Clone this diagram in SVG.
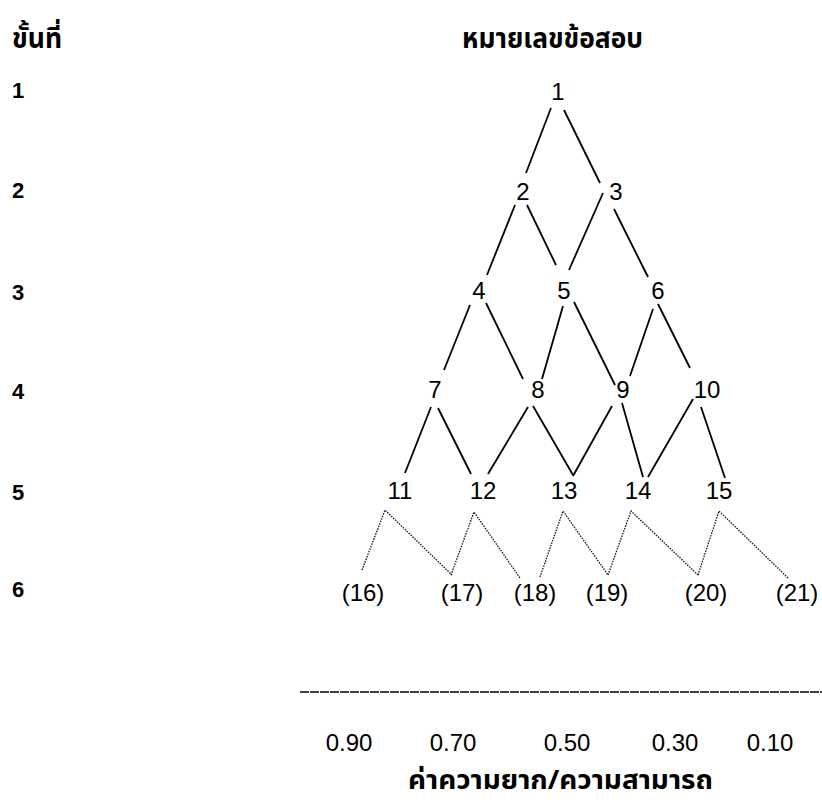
<svg xmlns="http://www.w3.org/2000/svg" width="822" height="802" viewBox="0 0 822 802">
<style>
.n{font-family:"Liberation Sans",Arial,sans-serif;font-size:24px;fill:#000;text-anchor:middle}
.l{font-family:"Liberation Sans",Arial,sans-serif;font-size:22px;font-weight:bold;fill:#000}
.th{font-family:"Noto Sans Thai","Noto Sans","DejaVu Sans",sans-serif;font-weight:bold;fill:#000}
.s{stroke:#000;stroke-width:1.8;fill:none}
.d{stroke:#111;stroke-width:1.3;stroke-dasharray:1.5 1.2;fill:none}
</style>
<rect width="822" height="802" fill="#fff"/>
<g id="header">
<text class="th" x="12" y="48" font-size="28" textLength="50" lengthAdjust="spacingAndGlyphs">ขั้นที่</text>
<text class="th" x="462" y="48" font-size="28" textLength="181" lengthAdjust="spacingAndGlyphs">หมายเลขข้อสอบ</text>
</g>
<g id="steps">
<text class="l" x="12" y="98">1</text>
<text class="l" x="12" y="198">2</text>
<text class="l" x="12" y="300">3</text>
<text class="l" x="12" y="399">4</text>
<text class="l" x="12" y="500">5</text>
<text class="l" x="12" y="597">6</text>
</g>
<g id="connectors">
<line class="s" x1="551" y1="108" x2="526" y2="173"/>
<line class="s" x1="564" y1="110" x2="600" y2="183"/>
<line class="s" x1="515" y1="205" x2="487" y2="275"/>
<line class="s" x1="527" y1="205" x2="556" y2="265"/>
<line class="s" x1="603" y1="193" x2="569" y2="270"/>
<line class="s" x1="614" y1="209" x2="648" y2="277"/>
<line class="s" x1="470" y1="305" x2="444" y2="370"/>
<line class="s" x1="486" y1="303" x2="523" y2="379"/>
<line class="s" x1="563" y1="306" x2="542" y2="379"/>
<line class="s" x1="574" y1="302" x2="615" y2="385"/>
<line class="s" x1="653" y1="309" x2="630" y2="376"/>
<line class="s" x1="658" y1="304" x2="690" y2="368"/>
<line class="s" x1="431" y1="407" x2="405" y2="473"/>
<line class="s" x1="438" y1="408" x2="471" y2="474"/>
<line class="s" x1="528" y1="407" x2="488" y2="474"/>
<line class="s" x1="533" y1="406" x2="573" y2="475"/>
<line class="s" x1="612" y1="406" x2="573" y2="476"/>
<line class="s" x1="622" y1="403" x2="643" y2="477"/>
<line class="s" x1="693" y1="399" x2="648" y2="477"/>
<line class="s" x1="701" y1="407" x2="725" y2="478"/>
<polyline class="d" points="362,570 385,510 452,575"/>
<polyline class="d" points="451,575 474,512 520,578"/>
<polyline class="d" points="540,577 563,511 608,575"/>
<polyline class="d" points="608,575 631,511 698,575"/>
<polyline class="d" points="698,575 719,511 788,578"/>
<line x1="300" y1="692" x2="822" y2="692" stroke="#000" stroke-width="1.6" stroke-dasharray="9 1"/>
</g>
<g id="n1"><text class="n" x="558" y="100">1</text></g>
<g id="n2"><text class="n" x="523" y="200">2</text></g>
<g id="n3"><text class="n" x="616" y="200">3</text></g>
<g id="n4"><text class="n" x="479" y="299">4</text></g>
<g id="n5"><text class="n" x="564" y="299">5</text></g>
<g id="n6"><text class="n" x="658" y="299">6</text></g>
<g id="n7"><text class="n" x="435" y="398">7</text></g>
<g id="n8"><text class="n" x="538" y="398">8</text></g>
<g id="n9"><text class="n" x="623" y="398">9</text></g>
<g id="n10"><text class="n" x="707" y="398">10</text></g>
<g id="n11"><text class="n" x="400" y="499">11</text></g>
<g id="n12"><text class="n" x="483" y="499">12</text></g>
<g id="n13"><text class="n" x="564" y="499">13</text></g>
<g id="n14"><text class="n" x="638" y="499">14</text></g>
<g id="n15"><text class="n" x="719" y="499">15</text></g>
<g id="n16"><text class="n" x="363" y="601">(16)</text></g>
<g id="n17"><text class="n" x="462" y="601">(17)</text></g>
<g id="n18"><text class="n" x="535" y="601">(18)</text></g>
<g id="n19"><text class="n" x="607" y="601">(19)</text></g>
<g id="n20"><text class="n" x="706" y="601">(20)</text></g>
<g id="n21"><text class="n" x="797" y="601">(21)</text></g>
<g id="axis">
<text class="n" x="349" y="751">0.90</text>
<text class="n" x="453" y="751">0.70</text>
<text class="n" x="567" y="751">0.50</text>
<text class="n" x="675" y="751">0.30</text>
<text class="n" x="770" y="751">0.10</text>
<text class="th" x="408" y="789" font-size="27" textLength="305" lengthAdjust="spacingAndGlyphs">ค่าความยาก/ความสามารถ</text>
</g>
</svg>
